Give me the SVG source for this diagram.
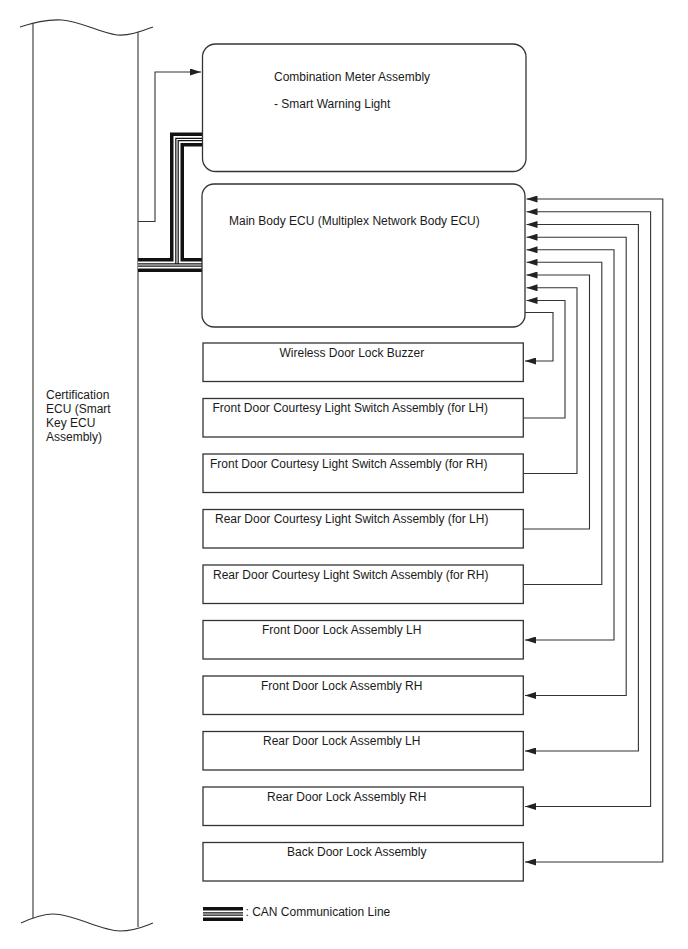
<svg xmlns="http://www.w3.org/2000/svg" width="688" height="949" viewBox="0 0 688 949">
<style>
.box{fill:#fff;stroke:#333;stroke-width:1.3}
.ln{fill:none;stroke:#333;stroke-width:1.1}
.t{font-family:"Liberation Sans",Arial,sans-serif;font-size:12px;fill:#1a1a1a}
.c1{fill:none;stroke:#111;stroke-width:14}
.c2{fill:none;stroke:#fff;stroke-width:7}
.c3{fill:none;stroke:#111;stroke-width:3.6}
.c4{fill:none;stroke:#fff;stroke-width:1.1}
</style>
<defs>
<marker id="ah" markerUnits="userSpaceOnUse" viewBox="0 0 11 7" markerWidth="11" markerHeight="7" refX="11" refY="3.5" orient="auto-start-reverse">
<path d="M0,0 L11,3.5 L0,7 z" fill="#222"/>
</marker>
</defs>
<rect width="688" height="949" fill="#fff"/>

<g id="certification-ecu">
<path class="ln" d="M20,27 C35,22 48,19 62,20 C80,21 100,33 117,35 C130,36 142,31 153,27"/>
<path class="ln" d="M21,923 C32,918 42,914 53,914 C75,914 100,931 120,931 C135,931 145,926 153,923"/>
<line class="ln" x1="33" y1="23" x2="33" y2="918"/>
<line class="ln" x1="138" y1="32" x2="138" y2="927"/>
<text class="t" x="46" y="399">Certification</text>
<text class="t" x="46" y="413">ECU (Smart</text>
<text class="t" x="46" y="427">Key ECU</text>
<text class="t" x="46" y="441">Assembly)</text>
</g>

<g id="connectors">
<!-- CAN bundle -->
<path class="c1" d="M138,265 H202"/>
<path class="c1" d="M202,139.5 H177 V265"/>
<path class="c2" d="M138,265 H202"/>
<path class="c2" d="M202,139.5 H177 V265"/>
<path class="c3" d="M138,265 H202"/>
<path class="c3" d="M202,139.5 H177 V265"/>
<path class="c4" d="M138,265 H202"/>
<path class="c4" d="M202,139.5 H177 V263.2"/>
<!-- cert to combination meter -->
<path class="ln" d="M138,221.5 H155 V72 H201" marker-end="url(#ah)"/>
<!-- ECU to buzzer -->
<path class="ln" d="M525,312.5 H553 V361 H525" marker-end="url(#ah)"/>
<!-- courtesy switches to ECU -->
<path class="ln" d="M523,418 H565 V300.5 H526.5" marker-end="url(#ah)"/>
<path class="ln" d="M523,473.5 H577 V287.8 H526.5" marker-end="url(#ah)"/>
<path class="ln" d="M523,529 H589.5 V275 H526.5" marker-end="url(#ah)"/>
<path class="ln" d="M523,584.5 H601.8 V262.3 H526.5" marker-end="url(#ah)"/>
<!-- door locks, bidirectional -->
<path class="ln" d="M525,640 H614 V249.8 H526.5" marker-start="url(#ah)" marker-end="url(#ah)"/>
<path class="ln" d="M525,695.5 H626.2 V237.2 H526.5" marker-start="url(#ah)" marker-end="url(#ah)"/>
<path class="ln" d="M525,751 H638.4 V224.5 H526.5" marker-start="url(#ah)" marker-end="url(#ah)"/>
<path class="ln" d="M525,806.5 H650.6 V211.8 H526.5" marker-start="url(#ah)" marker-end="url(#ah)"/>
<path class="ln" d="M525,862 H662.8 V199 H526.5" marker-start="url(#ah)" marker-end="url(#ah)"/>
</g>

<g id="combination-meter">
<rect class="box" x="202.5" y="44" width="323.5" height="127.5" rx="13"/>
<text class="t" x="274" y="81">Combination Meter Assembly</text>
<text class="t" x="274" y="108">- Smart Warning Light</text>
</g>

<g id="main-body-ecu">
<rect class="box" x="202" y="184" width="323" height="143" rx="12"/>
<text class="t" x="229" y="225">Main Body ECU (Multiplex Network Body ECU)</text>
</g>

<g id="wireless-door-lock-buzzer">
<rect class="box" x="203" y="343" width="320.3" height="38.5"/>
<text class="t" x="279.5" y="356.5">Wireless Door Lock Buzzer</text>
</g>
<g id="front-courtesy-lh">
<rect class="box" x="203" y="398.5" width="320.3" height="38.5"/>
<text class="t" x="212.5" y="412">Front Door Courtesy Light Switch Assembly (for LH)</text>
</g>
<g id="front-courtesy-rh">
<rect class="box" x="203" y="454" width="320.3" height="38.5"/>
<text class="t" x="210" y="467.5">Front Door Courtesy Light Switch Assembly (for RH)</text>
</g>
<g id="rear-courtesy-lh">
<rect class="box" x="203" y="509.5" width="320.3" height="38.5"/>
<text class="t" x="215" y="523">Rear Door Courtesy Light Switch Assembly (for LH)</text>
</g>
<g id="rear-courtesy-rh">
<rect class="box" x="203" y="565" width="320.3" height="38.5"/>
<text class="t" x="213" y="578.5">Rear Door Courtesy Light Switch Assembly (for RH)</text>
</g>
<g id="front-door-lock-lh">
<rect class="box" x="203" y="620.5" width="320.3" height="38.5"/>
<text class="t" x="262" y="634">Front Door Lock Assembly LH</text>
</g>
<g id="front-door-lock-rh">
<rect class="box" x="203" y="676" width="320.3" height="38.5"/>
<text class="t" x="261" y="689.5">Front Door Lock Assembly RH</text>
</g>
<g id="rear-door-lock-lh">
<rect class="box" x="203" y="731.5" width="320.3" height="38.5"/>
<text class="t" x="263" y="745">Rear Door Lock Assembly LH</text>
</g>
<g id="rear-door-lock-rh">
<rect class="box" x="203" y="787" width="320.3" height="38.5"/>
<text class="t" x="267" y="800.5">Rear Door Lock Assembly RH</text>
</g>
<g id="back-door-lock">
<rect class="box" x="203" y="842.5" width="320.3" height="38.5"/>
<text class="t" x="287" y="856">Back Door Lock Assembly</text>
</g>

<g id="legend">
<path class="c1" d="M203,914 H243"/>
<path class="c2" d="M203,914 H243"/>
<path class="c3" d="M203,914 H243"/>
<path class="c4" d="M203,914 H243"/>
<text class="t" x="245.5" y="916">: CAN Communication Line</text>
</g>
</svg>
